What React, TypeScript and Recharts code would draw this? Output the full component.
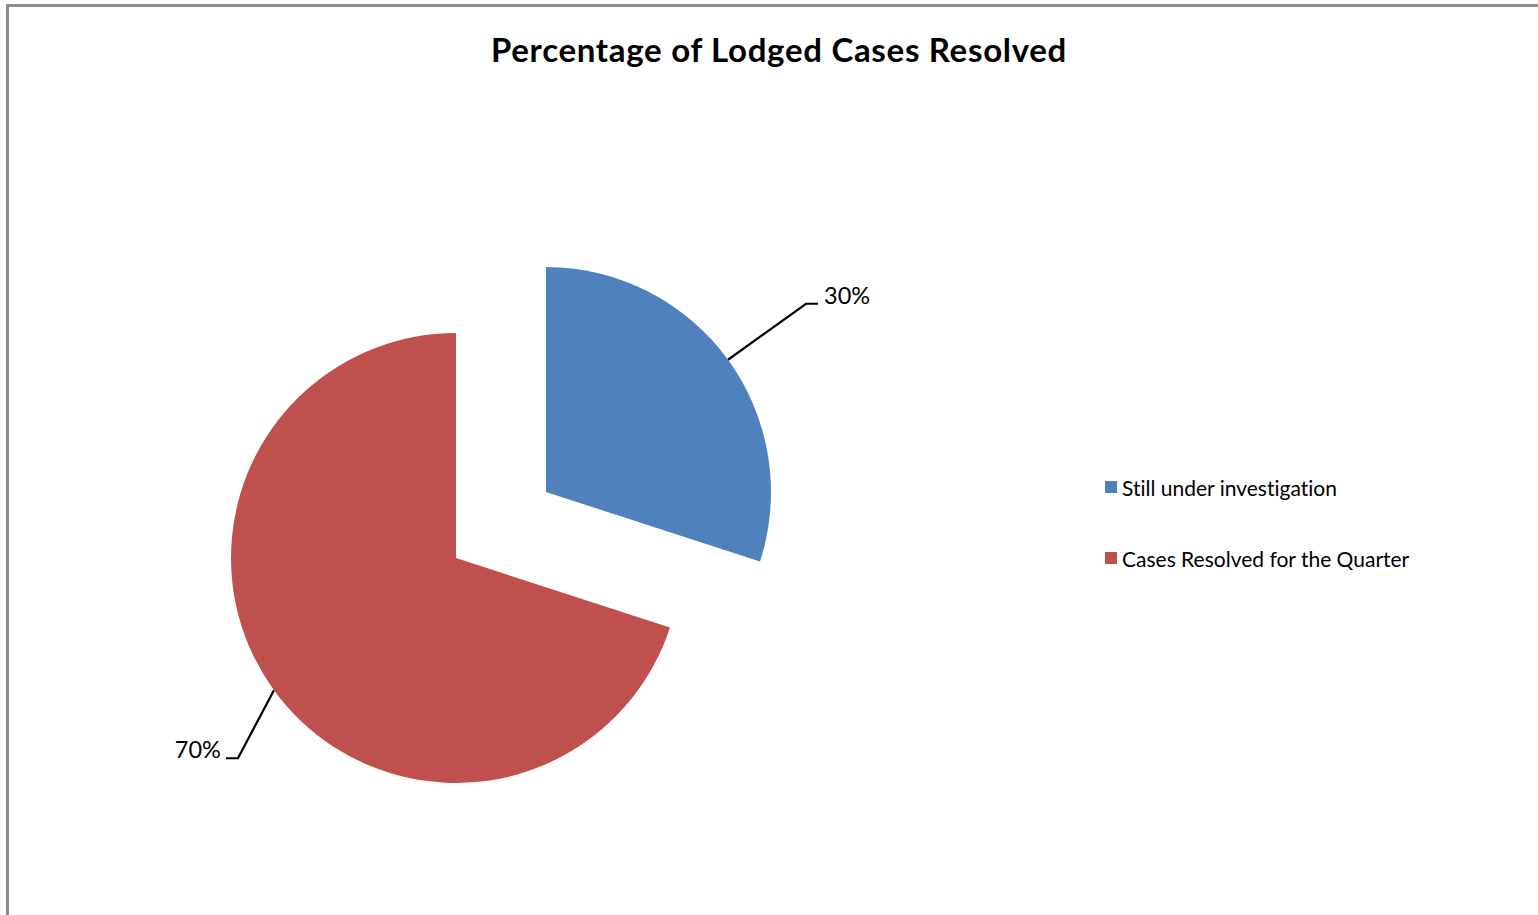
import { PieChart, Pie, Cell, Legend } from "recharts";

const CATEGORIES = ["Still under investigation", "Cases Resolved for the Quarter"];
const VALUES = [30, 70];
const COLORS = ["#4f81bd", "#c0504d"];

const data = CATEGORIES.map((name, i) => ({ name, value: VALUES[i] }));

const FONT = "Lato, 'Open Sans', sans-serif";
const RAD = Math.PI / 180;

// leader line bend offsets (px) per slice, from arc point to elbow
const LEADER = [
  { dx: 78, dy: -56 },
  { dx: -36, dy: 68 },
];

function makeLabel(visibleIndex: number) {
  return (props: any) => {
    const { cx, cy, midAngle, outerRadius, index, percent } = props;
    if (index !== visibleIndex) return null;
    const x0 = cx + outerRadius * Math.cos(-midAngle * RAD);
    const y0 = cy + outerRadius * Math.sin(-midAngle * RAD);
    const { dx, dy } = LEADER[index];
    const x1 = x0 + dx;
    const y1 = y0 + dy;
    const right = dx > 0;
    const x2 = x1 + (right ? 12 : -12);
    return (
      <g>
        <polyline
          points={`${x0},${y0} ${x1},${y1} ${x2},${y1}`}
          fill="none"
          stroke="#000"
          strokeWidth={2.2}
        />
        <text
          x={x2 + (right ? 6 : -5)}
          y={y1 - 9}
          textAnchor={right ? "start" : "end"}
          dominantBaseline="central"
          fontFamily={FONT}
          fontSize={23.5}
          fill="#000"
        >
          {`${Math.round(percent * 100)}%`}
        </text>
      </g>
    );
  };
}

function LegendBox() {
  return (
    <div style={{ fontFamily: FONT, fontSize: 21, color: "#000", fontVariantLigatures: "none" }}>
      {data.map((d, i) => (
        <div
          key={d.name}
          style={{ display: "flex", alignItems: "center", height: 24, marginBottom: i === 0 ? 47 : 0 }}
        >
          <span style={{ width: 12, height: 12, background: COLORS[i], marginRight: 5, display: "inline-block" }} />
          <span>{d.name}</span>
        </div>
      ))}
    </div>
  );
}

export default function App() {
  return (
    <div style={{ position: "absolute", left: 0, top: 0, width: 1538, height: 915, overflow: "hidden", background: "#fff" }}>
      <div
        style={{
          position: "absolute",
          left: 6,
          top: 4,
          width: 1600,
          height: 1000,
          borderTop: "3px solid #8c8c8c",
          borderLeft: "3px solid #8c8c8c",
          boxSizing: "border-box",
        }}
      />
      <div
        style={{
          position: "absolute",
          left: 0,
          width: 1558,
          top: 29,
          textAlign: "center",
          fontFamily: FONT,
          fontWeight: 700,
          fontSize: 33,
          letterSpacing: 0.7,
          lineHeight: "40px",
          color: "#000",
        }}
      >
        Percentage of Lodged Cases Resolved
      </div>
      <div style={{ position: "absolute", left: 0, top: 0 }}>
        <PieChart width={1538} height={915} margin={{ top: 0, right: 0, bottom: 0, left: 0 }}>
          <Pie
            data={data}
            dataKey="value"
            nameKey="name"
            cx={456}
            cy={558}
            outerRadius={225}
            startAngle={90}
            endAngle={-270}
            stroke="none"
            isAnimationActive={false}
            label={makeLabel(1)}
            labelLine={false}
          >
            {data.map((d, i) => (
              <Cell key={d.name} fill={i === 1 ? COLORS[i] : "transparent"} stroke="none" />
            ))}
          </Pie>
          <Pie
            data={data}
            dataKey="value"
            nameKey="name"
            cx={546}
            cy={492}
            outerRadius={225}
            startAngle={90}
            endAngle={-270}
            stroke="none"
            isAnimationActive={false}
            label={makeLabel(0)}
            labelLine={false}
          >
            {data.map((d, i) => (
              <Cell key={d.name} fill={i === 0 ? COLORS[i] : "transparent"} stroke="none" />
            ))}
          </Pie>
          <Legend
            layout="vertical"
            content={() => <LegendBox />}
            wrapperStyle={{ position: "absolute", left: 1105, top: 475, width: 380 }}
          />
        </PieChart>
      </div>
    </div>
  );
}
